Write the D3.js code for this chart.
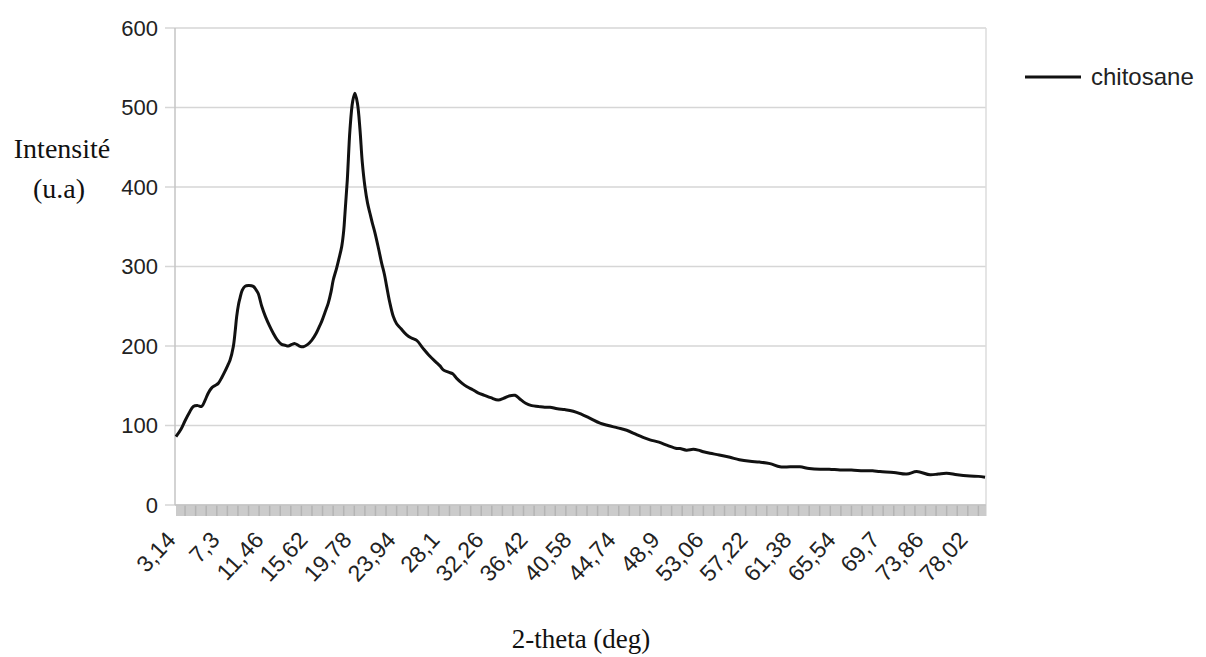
<!DOCTYPE html>
<html>
<head>
<meta charset="utf-8">
<script src="https://cdn.jsdelivr.net/npm/d3@7"></script>
<style>
  body { margin: 0; background: #fff; }
  svg { display: block; }
</style>
</head>
<body>
<div id="diagram"></div>
<script>
// data
const twoTheta = [3.14, 3.6, 4.0, 4.4, 4.78, 5.2, 5.57, 5.9, 6.2, 6.5, 6.8, 7.14, 7.5, 7.77, 8.05, 8.25, 8.56, 8.75, 8.88, 9.05,
  9.19, 9.4, 9.66, 10.0, 10.45, 10.7, 10.92, 11.25, 11.6, 12.0, 12.34, 12.7, 13.13, 13.45, 13.76, 14.1, 14.39, 14.8, 15.18, 15.6,
  15.97, 16.4, 16.75, 16.92, 17.25, 17.54, 17.8, 18.01, 18.33, 18.55, 18.81, 19.0, 19.12, 19.34, 19.59, 19.85, 20.06, 20.3, 20.54, 20.75,
  21.01, 21.25, 21.48, 21.7, 21.96, 22.3, 22.59, 22.85, 23.06, 23.35, 23.69, 24.0, 24.4, 24.95, 25.4, 25.9, 26.5, 27.15, 27.7, 28.1,
  28.41, 28.9, 29.3, 29.7, 30.2, 30.62, 31.2, 31.7, 32.3, 32.9, 33.61, 34.1, 34.6, 35.19, 35.6, 36.2, 36.77, 37.4, 38.0, 38.5,
  39.2, 39.9, 40.7, 41.5, 42.3, 43.23, 44.0, 44.9, 45.75, 46.6, 47.3, 47.95, 48.8, 49.6, 50.48, 50.79, 51.4, 52.05, 52.52, 53.0,
  53.63, 54.5, 55.52, 56.4, 57.41, 58.3, 59.3, 60.24, 61.2, 62.13, 63.0, 64.03, 64.9, 65.92, 67.0, 68.12, 69.0, 69.7, 71.0, 72.22,
  73.17, 74.43, 75.2, 76.0, 77.0, 78.21, 79.0, 79.63];
const intensity = [86, 95, 106, 116, 124, 125, 124, 132, 141, 147, 150, 153, 161, 168, 176, 182, 199, 220, 237, 252,
  260, 270, 275, 276, 275, 271, 266, 250, 237, 225, 216, 208, 202, 201, 200, 202, 203, 200, 199, 202,
  207, 216, 226, 231, 243, 254, 268, 283, 298, 310, 325, 345, 367, 409, 472, 508, 518, 505, 472, 432,
  400, 380, 367, 355, 342, 322, 304, 290, 275, 255, 237, 228, 222, 214, 210, 207, 197, 187, 180, 175,
  170, 167, 165, 159, 153, 149, 145, 141, 138, 135, 132, 134, 137, 138, 134, 128, 125, 124, 123, 123,
  121, 120, 118, 114, 109, 103, 100, 97, 94, 89, 85, 82, 79, 75, 71, 71, 69, 70, 69, 67,
  65, 63, 60, 57, 55, 54, 52, 48, 48, 48, 46, 45, 45, 44, 44, 43, 43, 42, 41, 39,
  42, 38, 39, 40, 38, 36.5, 36, 35];
const xTickLabels = ["3,14", "7,3", "11,46", "15,62", "19,78", "23,94", "28,1", "32,26", "36,42", "40,58",
  "44,74", "48,9", "53,06", "57,22", "61,38", "65,54", "69,7", "73,86", "78,02"];
const yTicks = [0, 100, 200, 300, 400, 500, 600];
const seriesName = "chitosane";

// constants
const w = 1206;
const h = 657;
const plotLeft = 175;
const plotRight = 986;
const plotTop = 28;
const plotBottom = 505;
const sans = "'Liberation Sans', Arial, sans-serif";
const serif = "'Liberation Serif', 'Times New Roman', serif";

const dataset = twoTheta.map((t, i) => [t, intensity[i]]);

const svg = d3.select("#diagram")
  .append("svg")
  .attr("width", w)
  .attr("height", h);

// scales
const xScale = d3.scaleLinear()
  .domain([3.05, 79.72])
  .range([plotLeft, plotRight]);

const yScale = d3.scaleLinear()
  .domain([0, 600])
  .range([plotBottom, plotTop]);

// grid
svg.append("g")
  .selectAll("line")
  .data(yTicks)
  .enter()
  .append("line")
  .attr("x1", plotLeft - 10)
  .attr("x2", plotRight)
  .attr("y1", (d) => yScale(d))
  .attr("y2", (d) => yScale(d))
  .attr("stroke", "#d6d6d6")
  .attr("stroke-width", 1.5);

// plot frame
svg.append("line")
  .attr("x1", plotLeft).attr("x2", plotLeft)
  .attr("y1", plotTop).attr("y2", plotBottom)
  .attr("stroke", "#c4c4c4").attr("stroke-width", 1.5);
svg.append("line")
  .attr("x1", plotRight).attr("x2", plotRight)
  .attr("y1", plotTop).attr("y2", plotBottom + 11)
  .attr("stroke", "#dcdcdc").attr("stroke-width", 1.5);

// y labels
svg.append("g")
  .selectAll("text")
  .data(yTicks)
  .enter()
  .append("text")
  .attr("x", 158)
  .attr("y", (d) => yScale(d))
  .attr("dy", "0.36em")
  .attr("text-anchor", "end")
  .attr("font-family", sans)
  .attr("font-size", 22)
  .attr("fill", "#222")
  .text((d) => d);

// x axis band of category ticks
svg.append("rect")
  .attr("x", plotLeft + 1)
  .attr("y", plotBottom)
  .attr("width", plotRight - plotLeft - 1)
  .attr("height", 11)
  .attr("fill", "#cbcbcb");
svg.append("g")
  .selectAll("line")
  .data(d3.range(4, 80, 1))
  .enter()
  .append("line")
  .attr("x1", (d) => xScale(d))
  .attr("x2", (d) => xScale(d))
  .attr("y1", plotBottom)
  .attr("y2", plotBottom + 11)
  .attr("stroke", "#b4b4b4")
  .attr("stroke-width", 1.5);
svg.append("line")
  .attr("x1", plotLeft).attr("x2", plotRight)
  .attr("y1", plotBottom).attr("y2", plotBottom)
  .attr("stroke", "#c4c4c4").attr("stroke-width", 1.5);

// x labels
svg.append("g")
  .selectAll("text")
  .data(xTickLabels)
  .enter()
  .append("text")
  .attr("transform", (d) => {
    const x = xScale(+d.replace(",", ".")) + 1;
    return `translate(${x},541) rotate(-47)`;
  })
  .attr("text-anchor", "end")
  .attr("font-family", sans)
  .attr("font-size", 23)
  .attr("fill", "#222")
  .text((d) => d);

// line
const line = d3.line()
  .x((d) => xScale(d[0]))
  .y((d) => yScale(d[1]))
  .curve(d3.curveCatmullRom.alpha(0.5));

svg.append("path")
  .datum(dataset)
  .attr("d", line)
  .attr("fill", "none")
  .attr("stroke", "#111")
  .attr("stroke-width", 3)
  .attr("stroke-linejoin", "round");

// legend
svg.append("line")
  .attr("x1", 1025).attr("x2", 1081)
  .attr("y1", 77).attr("y2", 77)
  .attr("stroke", "#111").attr("stroke-width", 3);
svg.append("text")
  .attr("x", 1091)
  .attr("y", 85)
  .attr("font-family", sans)
  .attr("font-size", 24)
  .attr("fill", "#222")
  .text(seriesName);

// axis titles
svg.append("text")
  .attr("x", 62)
  .attr("y", 158)
  .attr("text-anchor", "middle")
  .attr("font-family", serif)
  .attr("font-size", 28)
  .attr("fill", "#111")
  .text("Intensité");
svg.append("text")
  .attr("x", 59)
  .attr("y", 198)
  .attr("text-anchor", "middle")
  .attr("font-family", serif)
  .attr("font-size", 28)
  .attr("fill", "#111")
  .text("(u.a)");
svg.append("text")
  .attr("x", 581)
  .attr("y", 648)
  .attr("text-anchor", "middle")
  .attr("font-family", serif)
  .attr("font-size", 27)
  .attr("fill", "#111")
  .text("2-theta (deg)");
</script>
</body>
</html>
